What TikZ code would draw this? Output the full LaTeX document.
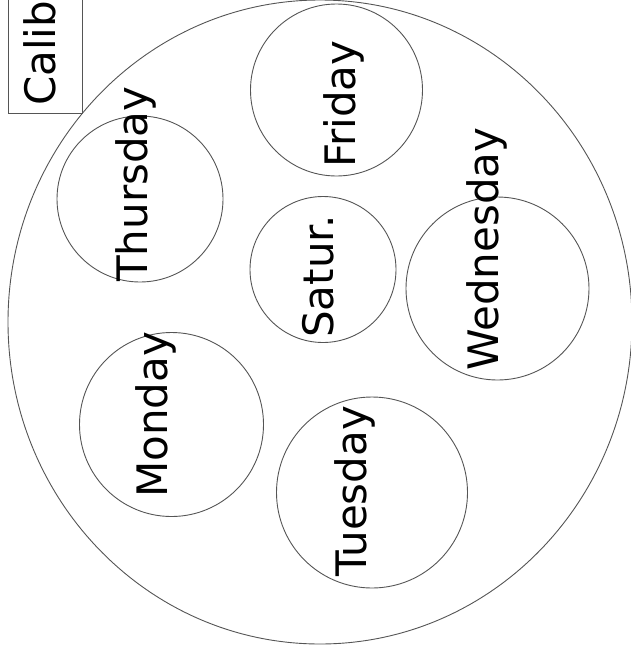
\documentclass[tikz,border=0pt]{standalone}
\usepackage{fontspec}
\setmainfont{DejaVu Sans}
\usetikzlibrary{shapes.geometric}
\definecolor{linegray}{HTML}{555555}
\tikzset{
  daycirc/.style={draw=linegray, line width=0.9pt, circle, inner sep=0pt},
  daytext/.style={rotate=90, anchor=base west, inner sep=0pt, font=\fontsize{42}{50}\selectfont},
}
\begin{document}
\begin{tikzpicture}[x=1pt, y=-1pt]
\useasboundingbox (0,0) rectangle (631,657);
\clip (0,0) rectangle (631,657);
% plate
\node[draw=linegray, line width=0.9pt, ellipse, inner sep=0pt, minimum width=624pt, minimum height=644pt] (plate) at (320,322) {};
% calibration label box
\node[draw=linegray, line width=0.9pt, inner sep=0pt, minimum width=74pt, minimum height=130pt] (calbox) at (45,48) {};
\node[daytext] (calib) at (55,106) {Calib};
% day wells
\node[daycirc, minimum size=172pt] (fri) at (336.5,90) {};
\node[daycirc, minimum size=166pt] (thu) at (140,199) {};
\node[daycirc, minimum size=146pt] (sat) at (323,269.5) {};
\node[daycirc, minimum size=183pt] (wed) at (497.5,288.5) {};
\node[daycirc, minimum size=184pt] (mon) at (171.5,424.5) {};
\node[daycirc, minimum size=191pt] (tue) at (372,492.5) {};
% labels
\node[daytext] (frit) at (355,168) {Friday};
\node[daytext] (thut) at (147,282) {Thursday};
\node[daytext] (satt) at (333,338) {Satur.};
\node[daytext] (wedt) at (498,371) {Wednesday};
\node[daytext] (mont) at (167,498) {Monday};
\node[daytext] (tuet) at (366,577) {Tuesday};
\end{tikzpicture}
\end{document}
